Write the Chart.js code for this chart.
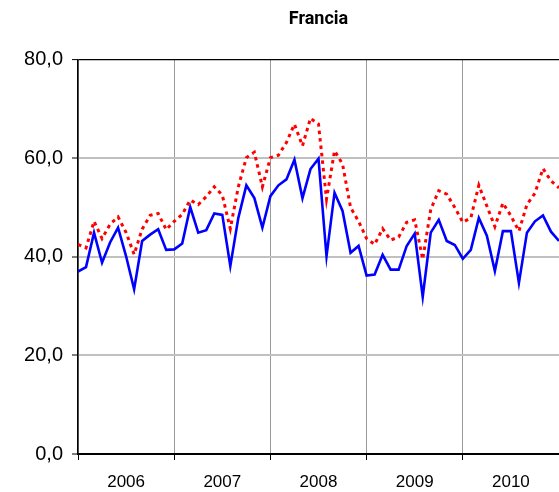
<!DOCTYPE html>
<html>
<head>
<meta charset="utf-8">
<script src="https://cdn.jsdelivr.net/npm/chart.js@4/dist/chart.umd.min.js"></script>
<style>
  html, body { margin: 0; padding: 0; background: #fff; overflow: hidden; }
  #wrap { width: 559px; height: 492px; position: relative; }
</style>
</head>
<body>
<div id="wrap"><canvas id="c"></canvas></div>
<script>
// ---- data (monthly, Jan 2006 .. Jan 2011) ----
const years = ['2006', '2007', '2008', '2009', '2010'];
const yTickValues = [0, 20, 40, 60, 80];
const titleText = 'Francia';

const blueSeries = [
  37.0, 37.9, 44.9, 38.8, 42.9, 45.9, 40.1, 33.4, 43.2, 44.5, 45.6, 41.4,
  41.5, 42.7, 50.1, 44.9, 45.4, 48.8, 48.5, 38.1, 47.9, 54.5, 51.9, 45.9,
  52.3, 54.5, 55.7, 59.7, 51.9, 57.8, 59.9, 40.1, 53.0, 49.3, 40.8, 42.2,
  36.2, 36.4, 40.4, 37.4, 37.4, 42.2, 44.7, 31.9, 44.9, 47.5, 43.2, 42.4,
  39.6, 41.4, 47.9, 44.3, 37.1, 45.2, 45.2, 34.7, 44.9, 47.2, 48.4, 45.1,
  43.2
];
const redSeries = [
  42.5, 41.8, 47.2, 43.7, 46.6, 48.1, 44.9, 40.5, 45.6, 48.4, 48.8, 45.5,
  47.2, 48.6, 51.5, 50.6, 52.2, 54.2, 52.5, 45.7, 54.2, 60.1, 61.2, 54.2,
  60.1, 60.6, 63.2, 66.9, 62.5, 68.1, 66.9, 51.7, 61.5, 58.8, 50.0, 47.2,
  43.7, 42.5, 45.7, 43.4, 44.0, 47.0, 47.5, 39.5, 49.6, 53.4, 52.7, 50.0,
  47.0, 47.9, 54.5, 50.3, 46.1, 50.9, 48.3, 45.2, 50.6, 52.9, 57.9, 55.4,
  54.0
];

const toPoints = arr => arr.map((v, i) => ({ x: i, y: v }));

Chart.defaults.font.family = "'Liberation Sans', Arial, sans-serif";
Chart.defaults.color = '#000';

new Chart(document.getElementById('c'), {
  type: 'line',
  data: {
    datasets: [
      {
        label: 'Serie 2',
        data: toPoints(redSeries),
        borderColor: '#ff0000',
        borderWidth: 3,
        borderDash: [3.5, 4],
        borderCapStyle: 'butt',
        pointRadius: 0,
        tension: 0,
        fill: false
      },
      {
        label: 'Serie 1',
        data: toPoints(blueSeries),
        borderColor: '#0000ff',
        borderWidth: 2.6,
        pointRadius: 0,
        tension: 0,
        fill: false
      }
    ]
  },
  options: {
    responsive: true,
    maintainAspectRatio: false,
    animation: false,
    devicePixelRatio: 1,
    layout: { padding: 0 },
    plugins: {
      legend: { display: false },
      tooltip: { enabled: false },
      title: {
        display: true,
        text: titleText,
        fullSize: false,
        color: '#000',
        font: { family: "'Liberation Sans Narrow', 'Arial Narrow', Roboto, sans-serif", weight: 'bold', size: 18 },
        padding: { top: 9, bottom: 29 }
      }
    },
    scales: {
      x: {
        type: 'linear',
        min: 0,
        max: 60,
        afterBuildTicks: s => {
          const t = [];
          for (let v = 0; v < 60; v += 6) t.push({ value: v });
          s.ticks = t;
        },
        afterFit: s => { s.height = 38; },
        ticks: {
          autoSkip: false,
          maxRotation: 0,
          padding: 12,
          font: { size: 17 },
          color: '#000',
          callback: v => (v % 12 === 6 ? years[(v - 6) / 12] : '')
        },
        grid: {
          color: ctx => (ctx.tick && ctx.tick.value % 12 === 0 ? '#9a9a9a' : 'transparent'),
          lineWidth: 1,
          tickLength: 6,
          tickWidth: 1,
          tickColor: ctx => (ctx.tick && ctx.tick.value % 12 === 0 ? '#000' : 'transparent')
        },
        border: { color: '#000', width: 1.5 }
      },
      y: {
        min: 0,
        max: 80,
        afterBuildTicks: s => { s.ticks = yTickValues.map(v => ({ value: v })); },
        afterFit: s => { s.width = 78; },
        ticks: {
          padding: 9,
          font: { size: 20 },
          color: '#000',
          callback: v => v.toFixed(1).replace('.', ',')
        },
        grid: {
          color: ctx => (ctx.tick && (ctx.tick.value === 80 || ctx.tick.value === 0) ? '#000' : '#c0c0c0'),
          lineWidth: ctx => (ctx.tick && ctx.tick.value === 80 ? 1.2 : 2),
          tickLength: 6,
          tickWidth: 1,
          tickColor: '#000'
        },
        border: { color: '#000', width: 1.5 }
      }
    }
  }
});
</script>
</body>
</html>
